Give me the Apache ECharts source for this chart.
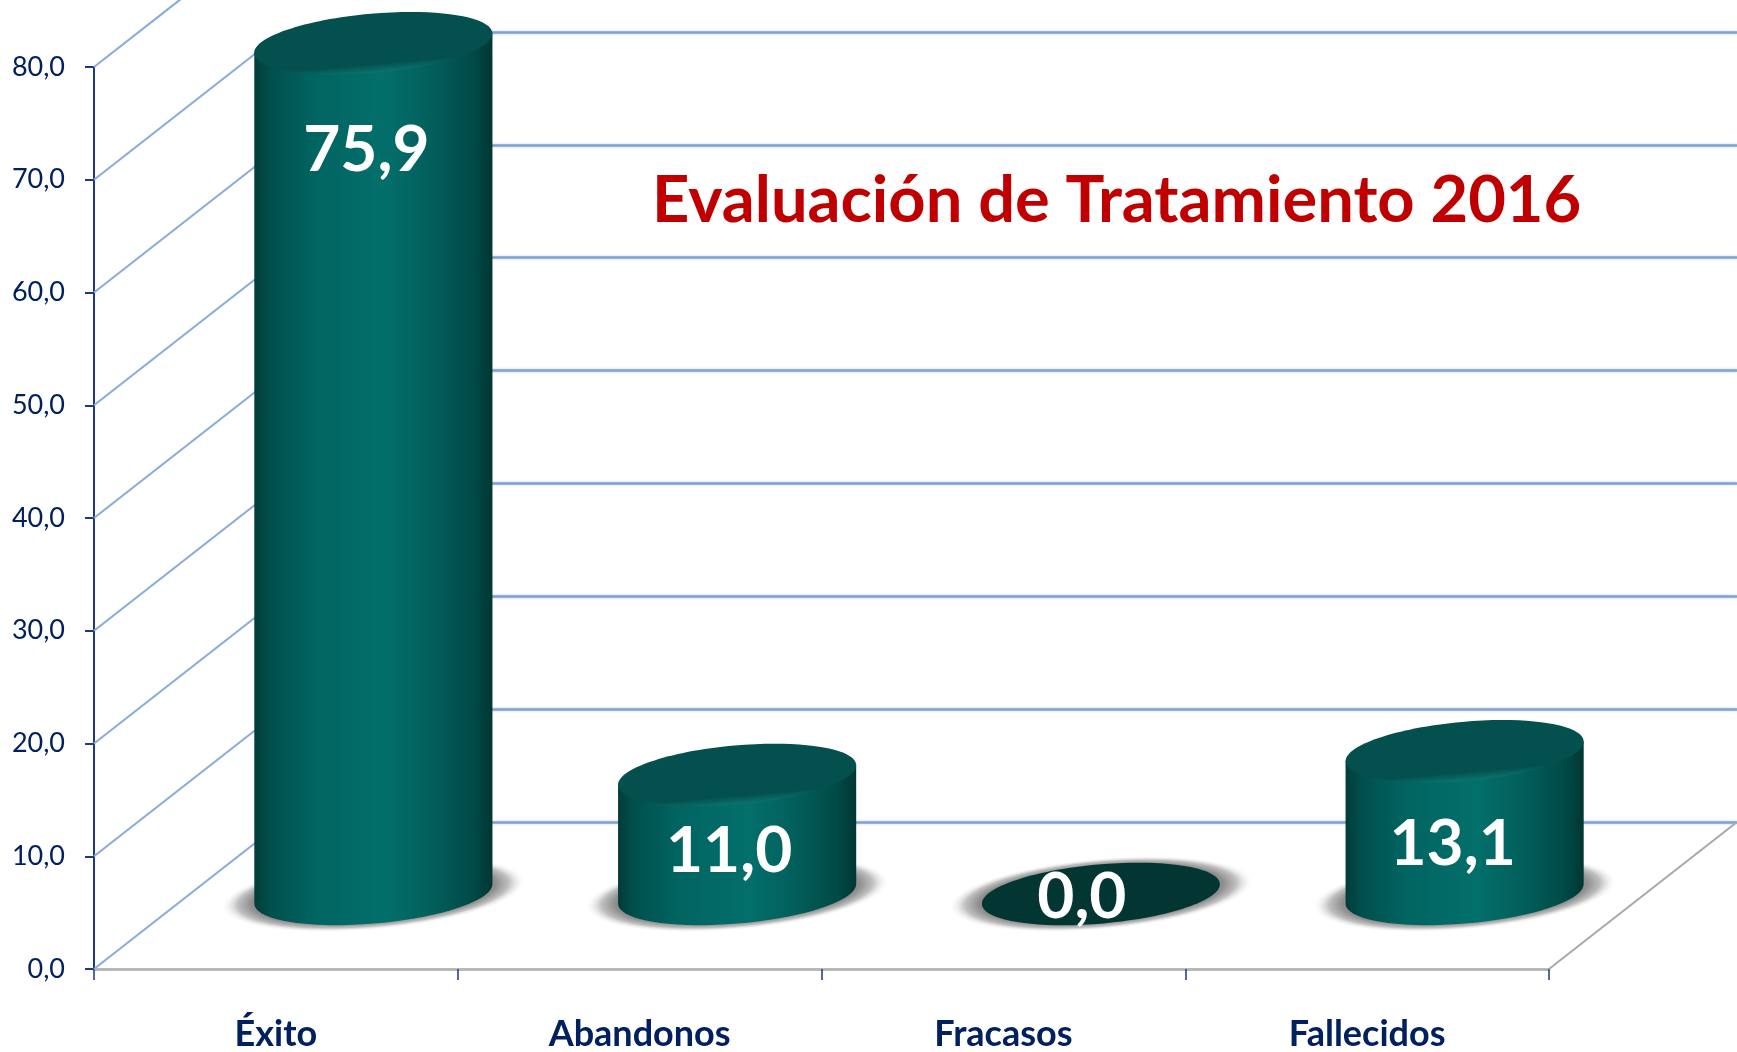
<!DOCTYPE html>
<html>
<head>
<meta charset="utf-8">
<title>Evaluación de Tratamiento 2016</title>
<style>
	html, body { margin: 0; padding: 0; background: #fff; }
	#main { width: 1737px; height: 1052px; }
</style>
<script src="https://cdn.jsdelivr.net/npm/echarts@6/dist/echarts.min.js"></script>
</head>
<body>
<div id="main"></div>
<script>
var categorias = [ 'Éxito', 'Abandonos', 'Fracasos', 'Fallecidos' ];
var valores = [ 75.9, 11.0, 0.0, 13.1 ];
var marcasY = [ 0, 10, 20, 30, 40, 50, 60, 70, 80 ];

// falsa perspectiva del original: desplazamiento del suelo hacia el fondo
var fondoX = 188, fondoY = 147;
var radioA = 119.5, radioB = 29.5, giro = 5 * Math.PI / 180;
// el original coloca las etiquetas a mano, [dx, dy] desde la tapa
var ajusteEtiqueta = [ [ -7, 107 ], [ -8, 76 ], [ -19, -2 ], [ -12, 93 ] ];

var myChart = echarts.init(document.getElementById('main'));

function fmt(v) {
	return v.toFixed(1).replace('.', ',');
}

function puntoElipse(cx, cy, a, b, t) {
	return [ cx + a * Math.cos(t) * Math.cos(giro) + b * Math.sin(t) * Math.sin(giro),
			cy - a * Math.cos(t) * Math.sin(giro) + b * Math.sin(t) * Math.cos(giro) ];
}

function elipse(cx, cy, a, b, style) {
	return {
		type : 'ellipse',
		x : cx,
		y : cy,
		rotation : giro,
		shape : { cx : 0, cy : 0, rx : a, ry : b },
		style : style
	};
}

function diagonal(params, api, color, ancho, enBorde) {
	var p = api.coord([ 0, api.value(1) ]);
	var x0 = enBorde ? params.coordSys.x + params.coordSys.width : params.coordSys.x;
	return {
		type : 'line',
		shape : { x1 : x0, y1 : p[1], x2 : x0 + fondoX, y2 : p[1] - fondoY },
		style : { stroke : color, lineWidth : ancho }
	};
}

function cilindro(params, api) {
	var i = api.value(0), v = api.value(1);
	var base = api.coord([ i, 0 ]);
	var tope = api.coord([ i, v ]);
	var cx = base[0] + 97.5, cyBase = base[1] - 75;
	var cyTope = tope[1] - 70;
	var hijos = [];

	// sombra difusa sobre el suelo: circulo aplastado para que el degradado sea eliptico
	hijos.push({
		type : 'circle',
		x : cx,
		y : cyBase,
		rotation : giro,
		scaleY : 0.235,
		shape : { cx : 0, cy : 0, r : 153 },
		style : {
			fill : new echarts.graphic.RadialGradient(0.5, 0.5, 0.5, [
				{ offset : 0, color : '#888' },
				{ offset : 0.8, color : '#8e8e8e' },
				{ offset : 0.89, color : '#c0c0c0' },
				{ offset : 1, color : 'rgba(255,255,255,0)' }
			])
		}
	});

	if (v === 0) {
		hijos.push(elipse(cx, cyBase, radioA, radioB, { fill : '#033533' }));
	} else {
		var t0 = Math.atan2(radioB * Math.sin(giro), radioA * Math.cos(giro));
		var puntos = [];
		// arco inferior de la base y cierre hacia la tapa
		for (var k = 0; k <= 36; k++) {
			puntos.push(puntoElipse(cx, cyBase, radioA, radioB, t0 + Math.PI * k / 36));
		}
		var izq = puntos[puntos.length - 1], der = puntos[0];
		puntos.push([ izq[0], izq[1] - (cyBase - cyTope) ]);
		puntos.push([ der[0], der[1] - (cyBase - cyTope) ]);
		hijos.push({
			type : 'polygon',
			shape : { points : puntos },
			style : {
				fill : new echarts.graphic.LinearGradient(0, 0, 1, 0, [
					{ offset : 0, color : '#013c39' },
					{ offset : 0.07, color : '#01504d' },
					{ offset : 0.25, color : '#016461' },
					{ offset : 0.55, color : '#036f6b' },
					{ offset : 0.75, color : '#025e5a' },
					{ offset : 0.92, color : '#014a47' },
					{ offset : 1, color : '#013633' }
				])
			}
		});
		hijos.push(elipse(cx, cyTope, radioA, radioB, {
			fill : new echarts.graphic.LinearGradient(0, 0, 0, 1, [
				{ offset : 0, color : '#03504e' },
				{ offset : 0.85, color : '#03504e' },
				{ offset : 1, color : '#0a746e' }
			])
		}));
	}

	hijos.push({
		type : 'text',
		style : {
			text : fmt(v),
			x : cx + ajusteEtiqueta[i][0],
			y : cyTope + ajusteEtiqueta[i][1],
			fill : '#fff',
			font : 'bold 64px Lato',
			align : 'center',
			verticalAlign : 'middle'
		}
	});
	return { type : 'group', children : hijos };
}

var option = {
	backgroundColor : '#fff',
	animation : false,
	title : {
		text : 'Evaluación de Tratamiento 2016',
		left : 652,
		top : 169,
		padding : 0,
		textStyle : {
			color : '#c00000',
			fontFamily : 'Lato',
			fontWeight : 'bold',
			fontSize : 65
		}
	},
	grid : [ {
		left : 94,
		top : 67,
		width : 1455,
		height : 902
	}, {
		// pared del fondo, la linea de 80 queda fuera de la imagen
		left : 282,
		top : 32,
		right : 0,
		height : 790
	} ],
	xAxis : [ {
		type : 'category',
		data : categorias,
		axisLine : { lineStyle : { color : '#b8b8b8', width : 3 } },
		axisTick : { show : true, length : 11, lineStyle : { color : '#1f3a7a', width : 1.5 } },
		axisLabel : {
			color : '#002060',
			fontFamily : 'Lato',
			fontWeight : 'bold',
			fontSize : 36,
			margin : 47
		}
	}, {
		gridIndex : 1,
		type : 'value',
		min : 0,
		max : 1,
		show : false
	} ],
	yAxis : [ {
		type : 'value',
		min : 0,
		max : 80,
		interval : 10,
		axisLine : { show : true, lineStyle : { color : '#1f3a7a', width : 2 } },
		axisTick : { show : true, length : 9, lineStyle : { color : '#1f3a7a', width : 2 } },
		axisLabel : {
			color : '#002060',
			fontFamily : 'Lato',
			fontSize : 27,
			margin : 29,
			padding : [ 2, 0, 0, 0 ],
			formatter : fmt
		},
		splitLine : { show : false }
	}, {
		gridIndex : 1,
		type : 'value',
		min : 0,
		max : 70,
		interval : 10,
		axisLine : { show : false },
		axisTick : { show : false },
		axisLabel : { show : false },
		splitLine : {
			show : true,
			lineStyle : { color : '#7ea2d2', width : 2.5, shadowBlur : 3, shadowColor : '#bcd0ea' }
		}
	} ],
	series : [ {
		type : 'custom',
		clip : false,
		z : 3,
		data : marcasY.map(function(m) { return [ 0, m ]; }),
		renderItem : function(params, api) {
			return diagonal(params, api, '#8aadda', 2.2, false);
		}
	}, {
		type : 'custom',
		clip : false,
		z : 3,
		data : [ [ 0, marcasY[0] ] ],
		renderItem : function(params, api) {
			return diagonal(params, api, '#a8a8a8', 2, true);
		}
	}, {
		type : 'custom',
		clip : false,
		z : 5,
		data : valores.map(function(v, i) { return [ i, v ]; }),
		renderItem : cilindro
	} ]
};

myChart.setOption(option);
</script>
</body>
</html>
